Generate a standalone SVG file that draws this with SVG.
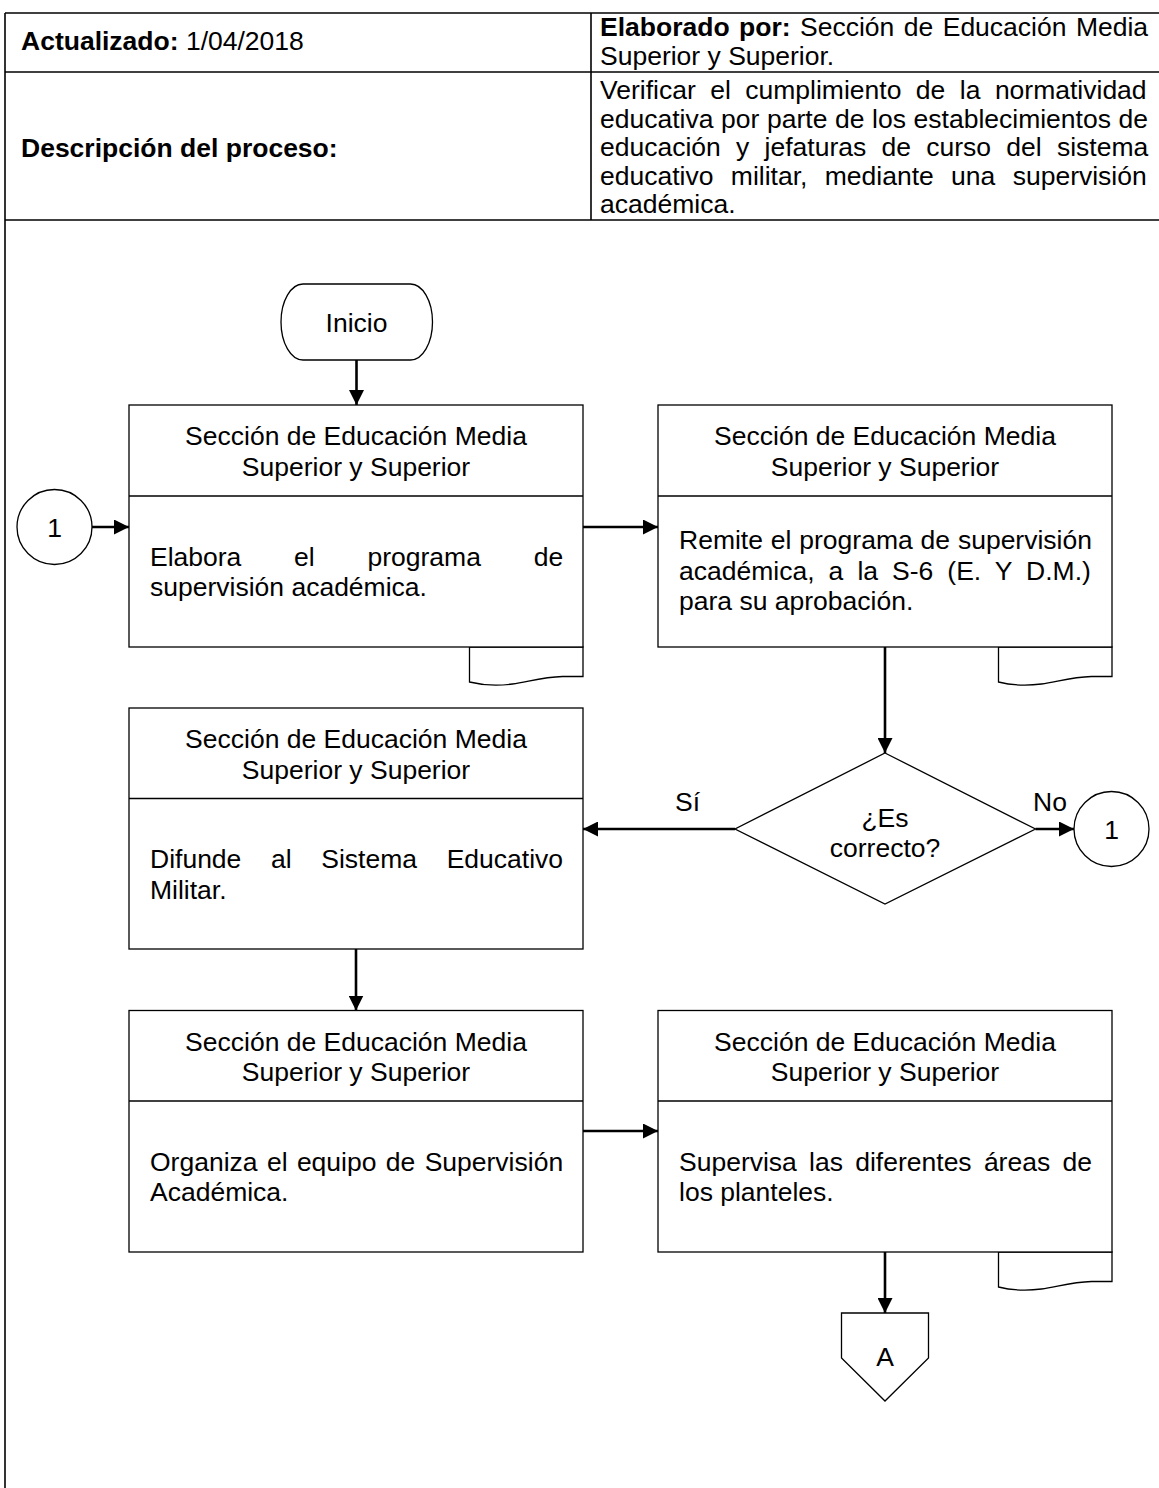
<svg xmlns="http://www.w3.org/2000/svg" width="1159" height="1488" viewBox="0 0 1159 1488">
<style>
text{font-family:"Liberation Sans",Arial,sans-serif;font-size:26.5px;fill:#000}
.b{font-weight:bold}
.c{text-anchor:middle}
.tbl{stroke:#000;stroke-width:1.6;fill:none}
.shape{stroke:#000;stroke-width:1.3;fill:#fff}
.conn{stroke:#000;stroke-width:2.6;fill:none;marker-end:url(#ah)}
</style>
<defs>
<marker id="ah" markerUnits="userSpaceOnUse" viewBox="0 0 15 15" refX="15" refY="7.5" markerWidth="15" markerHeight="15" orient="auto">
<path d="M0,0 L15,7.5 L0,15 Z" fill="#000"/>
</marker>
</defs>
<rect width="1159" height="1488" fill="#fff"/>

<g id="header">
<line class="tbl" x1="5" y1="13" x2="1159" y2="13"/>
<line class="tbl" x1="5" y1="72" x2="1159" y2="72"/>
<line class="tbl" x1="5" y1="220" x2="1159" y2="220"/>
<line class="tbl" x1="591" y1="13" x2="591" y2="220"/>
<line class="tbl" x1="5" y1="13" x2="5" y2="1488"/>
<text x="21" y="50"><tspan class="b">Actualizado:</tspan> 1/04/2018</text>
<text x="600" y="36" word-spacing="2.1"><tspan class="b">Elaborado por:</tspan> Sección de Educación Media</text>
<text x="600" y="65">Superior y Superior.</text>
<text x="21" y="157" class="b">Descripción del proceso:</text>
<text x="600" y="99" word-spacing="7.1">Verificar el cumplimiento de la normatividad</text>
<text x="600" y="127.5" word-spacing="0.25">educativa por parte de los establecimientos de</text>
<text x="600" y="156" word-spacing="7.9">educación y jefaturas de curso del sistema</text>
<text x="600" y="184.5" word-spacing="10">educativo militar, mediante una supervisión</text>
<text x="600" y="213">académica.</text>
</g>

<g id="inicio">
<rect class="shape" x="281" y="284" width="151.5" height="76" rx="22" ry="38"/>
<text class="c" x="356.5" y="331.5">Inicio</text>
</g>

<g id="con1-left">
<circle class="shape" cx="54.5" cy="527" r="37.5"/>
<text class="c" x="54.5" y="536.5">1</text>
</g>

<g id="box1">
<path class="shape" d="M469.5,647 v35 c12,3 28,4 43,2 s30,-7 50,-7.5 h20.5 v-29.5 z"/>
<rect class="shape" x="129" y="405" width="454" height="242"/>
<line class="shape" x1="129" y1="496" x2="583" y2="496"/>
<text class="c" x="356" y="445">Sección de Educación Media</text>
<text class="c" x="356" y="475.5">Superior y Superior</text>
<text x="150" y="565.5" word-spacing="45.4">Elabora el programa de</text>
<text x="150" y="596">supervisión académica.</text>
</g>

<g id="box2">
<path class="shape" d="M998.5,647 v35 c12,3 28,4 43,2 s30,-7 50,-7.5 h20.5 v-29.5 z"/>
<rect class="shape" x="658" y="405" width="454" height="242"/>
<line class="shape" x1="658" y1="496" x2="1112" y2="496"/>
<text class="c" x="885" y="445">Sección de Educación Media</text>
<text class="c" x="885" y="475.5">Superior y Superior</text>
<text x="679" y="549" word-spacing="0.5">Remite el programa de supervisión</text>
<text x="679" y="579.5" word-spacing="6.7">académica, a la S-6 (E. Y D.M.)</text>
<text x="679" y="610">para su aprobación.</text>
</g>

<g id="decision">
<polygon class="shape" points="885,753 1035.5,829 885,904 735,829"/>
<text class="c" x="885" y="826.5">¿Es</text>
<text class="c" x="885" y="856.5">correcto?</text>
</g>

<g id="con1-right">
<circle class="shape" cx="1111.5" cy="829" r="37.5"/>
<text class="c" x="1111.5" y="838.5">1</text>
</g>

<g id="box3">
<rect class="shape" x="129" y="708" width="454" height="241"/>
<line class="shape" x1="129" y1="798.5" x2="583" y2="798.5"/>
<text class="c" x="356" y="748">Sección de Educación Media</text>
<text class="c" x="356" y="778.5">Superior y Superior</text>
<text x="150" y="868" word-spacing="22.3">Difunde al Sistema Educativo</text>
<text x="150" y="898.5">Militar.</text>
</g>

<g id="box4">
<rect class="shape" x="129" y="1010.5" width="454" height="241.5"/>
<line class="shape" x1="129" y1="1101" x2="583" y2="1101"/>
<text class="c" x="356" y="1050.5">Sección de Educación Media</text>
<text class="c" x="356" y="1081">Superior y Superior</text>
<text x="150" y="1170.5" word-spacing="2">Organiza el equipo de Supervisión</text>
<text x="150" y="1201">Académica.</text>
</g>

<g id="box5">
<path class="shape" d="M998.5,1252 v35 c12,3 28,4 43,2 s30,-7 50,-7.5 h20.5 v-29.5 z"/>
<rect class="shape" x="658" y="1010.5" width="454" height="241.5"/>
<line class="shape" x1="658" y1="1101" x2="1112" y2="1101"/>
<text class="c" x="885" y="1050.5">Sección de Educación Media</text>
<text class="c" x="885" y="1081">Superior y Superior</text>
<text x="679" y="1170.5" word-spacing="4.9">Supervisa las diferentes áreas de</text>
<text x="679" y="1201">los planteles.</text>
</g>

<g id="offpage-A">
<polygon class="shape" points="841.5,1313 928.5,1313 928.5,1358 885,1401 841.5,1358"/>
<text class="c" x="885" y="1366">A</text>
</g>

<g id="connectors">
<line class="conn" x1="356.5" y1="360" x2="356.5" y2="405"/>
<line class="conn" x1="92" y1="527" x2="129" y2="527"/>
<line class="conn" x1="583" y1="527" x2="658" y2="527"/>
<line class="conn" x1="885" y1="647" x2="885" y2="753"/>
<line class="conn" x1="735" y1="829" x2="583" y2="829"/>
<line class="conn" x1="1035.5" y1="829" x2="1074" y2="829"/>
<line class="conn" x1="356" y1="949" x2="356" y2="1010.5"/>
<line class="conn" x1="583" y1="1131" x2="658" y2="1131"/>
<line class="conn" x1="885" y1="1252" x2="885" y2="1313"/>
</g>
<g id="labels">
<text class="c" x="687.5" y="811">Sí</text>
<text class="c" x="1050" y="811">No</text>
</g>
</svg>
